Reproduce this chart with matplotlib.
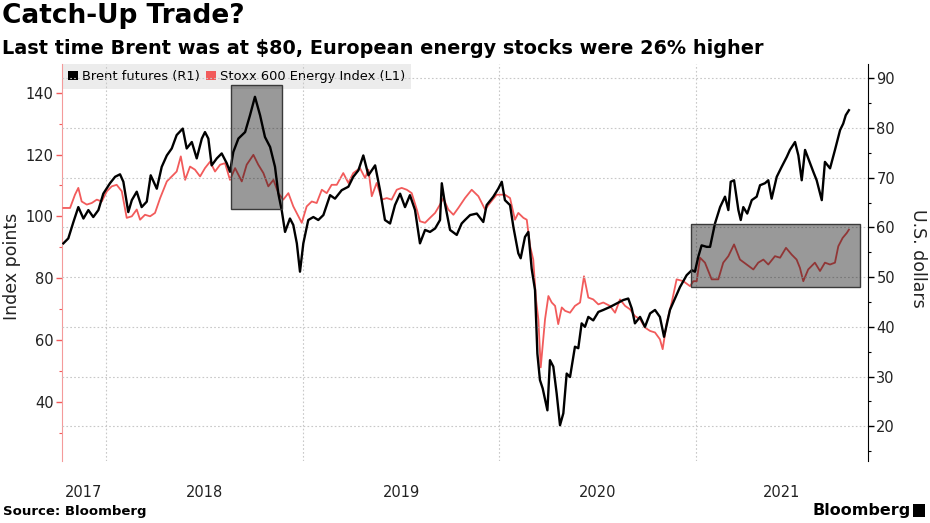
import matplotlib.pyplot as plt
from matplotlib.patches import Patch, Rectangle

# Brent futures, US$ (right axis) - dates as decimal years
brent_t = [2017.783, 2017.808, 2017.834, 2017.859, 2017.885, 2017.910, 2017.935, 2017.961, 2017.986,
           2018.020, 2018.046, 2018.071, 2018.088, 2018.113, 2018.131, 2018.156, 2018.181, 2018.207,
           2018.227, 2018.258, 2018.283, 2018.309, 2018.334, 2018.359, 2018.390, 2018.410, 2018.436,
           2018.461, 2018.487, 2018.503, 2018.520, 2018.537, 2018.563, 2018.588, 2018.614, 2018.630,
           2018.647, 2018.673, 2018.707, 2018.732, 2018.757, 2018.783, 2018.808, 2018.834, 2018.859,
           2018.876, 2018.893, 2018.910, 2018.935, 2018.952, 2018.970, 2018.986,
           2019.003, 2019.028, 2019.054, 2019.079, 2019.105, 2019.139, 2019.164, 2019.198, 2019.232,
           2019.257, 2019.283, 2019.308, 2019.334, 2019.368, 2019.393, 2019.418, 2019.444, 2019.469,
           2019.495, 2019.520, 2019.545, 2019.571, 2019.596, 2019.622, 2019.647, 2019.673, 2019.698,
           2019.707, 2019.723, 2019.749, 2019.783, 2019.808, 2019.825, 2019.851, 2019.885, 2019.918,
           2019.935, 2019.969, 2019.994,
           2020.012, 2020.028, 2020.054, 2020.071, 2020.096, 2020.108, 2020.130, 2020.147, 2020.164,
           2020.181, 2020.193, 2020.206, 2020.220, 2020.244, 2020.257, 2020.274, 2020.291, 2020.308,
           2020.325, 2020.342, 2020.359, 2020.384, 2020.401, 2020.418, 2020.435, 2020.452, 2020.477,
           2020.503, 2020.528, 2020.562, 2020.596, 2020.630, 2020.655, 2020.673, 2020.689, 2020.715,
           2020.740, 2020.766, 2020.791, 2020.816, 2020.837, 2020.867, 2020.918, 2020.952, 2020.978,
           2020.994,
           2021.011, 2021.028, 2021.054, 2021.071, 2021.096, 2021.122, 2021.147, 2021.164, 2021.176,
           2021.193, 2021.215, 2021.227, 2021.240, 2021.260, 2021.283, 2021.308, 2021.325, 2021.350,
           2021.367, 2021.384, 2021.410, 2021.435, 2021.461, 2021.477, 2021.503, 2021.520, 2021.537,
           2021.554, 2021.570, 2021.596, 2021.613, 2021.639, 2021.655, 2021.681, 2021.706, 2021.732,
           2021.748, 2021.761, 2021.777]
brent = [56.8, 57.8, 61.1, 64.1, 61.8, 63.5, 62.1, 63.5, 66.8,
         68.9, 70.2, 70.7, 69.2, 63.1, 65.5, 67.2, 64.1, 65.2,
         70.5, 67.8, 72.2, 74.5, 75.9, 78.6, 79.9, 75.9, 77.2,
         73.9, 77.9, 79.2, 77.9, 72.5, 73.9, 74.9, 72.9, 71.2,
         75.2, 77.9, 79.2, 82.6, 86.3, 82.6, 78.2, 76.2, 72.2,
         66.8, 63.5, 59.1, 61.8, 60.5, 56.8, 51.1,
         56.8, 61.5, 62.1, 61.5, 62.5, 66.5, 65.8, 67.5, 68.2,
         70.2, 71.5, 74.5, 70.5, 72.5, 67.5, 61.5, 60.8, 64.5,
         66.8, 64.1, 66.5, 63.5, 56.8, 59.5, 59.1, 59.8, 61.5,
         68.9, 64.8, 59.5, 58.5, 60.8, 61.5, 62.5, 62.8, 61.1,
         64.5, 66.2, 67.8,
         69.2, 65.5, 64.5, 60.1, 54.8, 53.8, 58.1, 59.1, 51.7,
         47.4, 34.6, 29.3, 27.6, 23.2, 33.3, 32.0, 26.6, 20.2,
         22.6, 30.6, 29.9, 36.0, 35.7, 40.7, 40.0, 42.0, 41.3,
         43.0, 43.4, 44.0, 44.7, 45.4, 45.7, 43.7, 40.7, 42.0,
         40.0, 42.7, 43.4, 42.0, 38.0, 43.4, 48.0, 50.4, 51.4,
         51.1,
         54.1, 56.4, 56.1, 56.1, 60.8, 64.1, 66.2, 63.5, 69.2,
         69.5, 63.5, 61.5, 64.1, 62.8, 65.5, 66.2, 68.5, 68.9,
         69.5, 65.8, 70.2, 72.2, 74.2, 75.6, 77.2, 74.5, 69.5,
         75.6, 73.9, 71.2, 69.5, 65.5, 73.2, 71.9, 75.6, 79.6,
         80.9, 82.6, 83.6]

# Stoxx 600 Energy Index, index points (left axis)
stoxx_t = [2017.783, 2017.817, 2017.842, 2017.859, 2017.876, 2017.902, 2017.927, 2017.953, 2017.978,
           2018.004, 2018.029, 2018.054, 2018.080, 2018.105, 2018.131, 2018.156, 2018.173, 2018.198,
           2018.224, 2018.249, 2018.275, 2018.309, 2018.334, 2018.359, 2018.380, 2018.402, 2018.427,
           2018.452, 2018.478, 2018.503, 2018.529, 2018.554, 2018.580, 2018.605, 2018.630, 2018.656,
           2018.690, 2018.715, 2018.749, 2018.774, 2018.800, 2018.825, 2018.851, 2018.876, 2018.901,
           2018.927, 2018.952, 2018.978, 2018.995,
           2019.020, 2019.046, 2019.071, 2019.097, 2019.122, 2019.147, 2019.173, 2019.206, 2019.232,
           2019.257, 2019.291, 2019.317, 2019.334, 2019.351, 2019.376, 2019.402, 2019.427, 2019.452,
           2019.478, 2019.503, 2019.529, 2019.554, 2019.580, 2019.596, 2019.622, 2019.647, 2019.673,
           2019.698, 2019.715, 2019.740, 2019.766, 2019.791, 2019.825, 2019.859, 2019.893, 2019.927,
           2019.952, 2019.986,
           2020.003, 2020.028, 2020.054, 2020.079, 2020.096, 2020.122, 2020.139, 2020.156, 2020.172,
           2020.186, 2020.198, 2020.210, 2020.220, 2020.232, 2020.249, 2020.266, 2020.283, 2020.299,
           2020.317, 2020.334, 2020.359, 2020.384, 2020.410, 2020.430, 2020.452, 2020.477, 2020.503,
           2020.528, 2020.562, 2020.588, 2020.613, 2020.639, 2020.664, 2020.689, 2020.715, 2020.740,
           2020.766, 2020.791, 2020.816, 2020.830, 2020.851, 2020.876, 2020.901, 2020.935, 2020.969,
           2020.986,
           2021.003, 2021.020, 2021.045, 2021.079, 2021.113, 2021.138, 2021.164, 2021.193, 2021.223,
           2021.257, 2021.291, 2021.316, 2021.342, 2021.367, 2021.401, 2021.427, 2021.457, 2021.486,
           2021.511, 2021.528, 2021.545, 2021.570, 2021.604, 2021.630, 2021.655, 2021.681, 2021.706,
           2021.723, 2021.745, 2021.766, 2021.777]
stoxx = [102.7, 102.7, 107.0, 109.2, 104.8, 103.8, 104.3, 105.4, 104.8,
         108.1, 109.7, 110.2, 108.1, 99.5, 100.0, 102.2, 98.9, 100.5,
         100.0, 101.1, 105.9, 111.3, 112.9, 114.5, 119.4, 111.8, 116.1,
         115.1, 112.9, 115.6, 117.7, 114.5, 116.7, 117.2, 111.8, 115.6,
         111.3, 116.7, 119.9, 116.7, 114.0, 109.7, 111.8, 107.5, 105.4,
         107.5, 103.2, 100.0, 97.9,
         103.2, 104.8, 104.3, 108.6, 107.5, 110.2, 110.2, 114.0, 110.8,
         114.0, 115.6, 112.4, 115.1, 106.5, 110.8, 105.4, 105.9, 105.4,
         108.6, 109.2, 108.6, 107.5, 102.2, 98.4, 97.9, 99.5, 101.1,
         103.8, 105.9, 102.2, 100.5, 102.7, 105.9, 108.6, 106.5, 102.2,
         104.3, 107.0,
         107.0, 107.0, 105.9, 98.9, 101.1, 99.5, 98.9, 90.3, 86.0,
         73.1, 66.6, 51.1, 58.1, 66.7, 74.2, 72.1, 71.0, 65.1,
         70.5, 69.4, 68.8, 71.0, 72.1, 80.6, 73.7, 73.1, 71.5,
         72.1, 71.0, 68.8, 73.1, 71.0, 69.9, 67.7, 66.7, 64.0,
         62.9, 62.4, 60.2, 57.0, 65.6, 72.1, 79.6, 79.0, 77.4,
         79.0,
         79.0, 86.6, 85.0, 79.6, 79.6, 85.0, 87.1, 90.9, 86.0,
         84.4, 82.8, 85.0, 86.0, 84.4, 87.1, 86.6, 89.8, 87.6,
         86.0, 83.3, 79.0, 82.8, 85.0, 82.3, 85.0, 84.4, 85.0,
         90.3, 93.0, 94.6, 95.7]

year_labels = ["2017", "2018", "2019", "2020", "2021"]
year_starts = [2018, 2019, 2020, 2021]
# highlighted periods: (start, end, low, high) in index points
boxes = [(2018.636, 2018.897, 102.5, 142.5),
         (2020.973, 2021.833, 77.2, 97.6)]

RED = "#f25b5b"
x0, x1 = 2017.776, 2021.874

fig = plt.figure(figsize=(9.3, 5.23), dpi=100)
ax = fig.add_axes([62 / 930, 62 / 523, 806 / 930, 397 / 523])
ax2 = ax.twinx()

ax.plot(stoxx_t, stoxx, color=RED, lw=1.3, zorder=3)
ax2.plot(brent_t, brent, color="black", lw=1.7, zorder=3)

for b0, b1, lo, hi in boxes:
    ax2.add_patch(Rectangle((b0, lo), b1 - b0, hi - lo, transform=ax.transData,
                            facecolor="black", alpha=0.4, edgecolor="none", zorder=5))
    ax2.add_patch(Rectangle((b0, lo), b1 - b0, hi - lo, transform=ax.transData,
                            fill=False, edgecolor="#3a3a3a", lw=1, zorder=6))

ax.set_xlim(x0, x1)
ax.set_ylim(20.8, 149.3)
ax2.set_ylim(13.0, 92.9)

# x axis: grid at year starts, labels in the middle of each visible year
edges = [x0] + year_starts + [x1]
centers = [(edges[i] + edges[i + 1]) / 2 for i in range(len(year_labels))]
ax.set_xticks(year_starts)
ax.set_xticklabels([])
ax.set_xticks(centers, minor=True)
ax.set_xticklabels(year_labels, minor=True)
ax.tick_params(axis="x", which="both", length=0, pad=17, labelsize=10.5, labelcolor="#222222")
ax.grid(axis="x", which="major", color="#c8c8c8", ls=(0, (1.5, 2)), lw=0.8)

ax.set_yticks(range(40, 141, 20))
ax.set_yticks(range(30, 131, 20), minor=True)
ax.tick_params(axis="y", which="major", color=RED, length=4, width=1, labelsize=10.5,
               labelcolor="#222222", pad=2)
ax.tick_params(axis="y", which="minor", color=RED, length=2.5, width=0.8)

ax2.set_yticks(range(20, 91, 10))
ax2.set_yticks(range(15, 91, 10), minor=True)
ax2.tick_params(axis="y", which="major", color="black", length=4, width=1, labelsize=10.5,
                labelcolor="#222222", pad=2)
ax2.tick_params(axis="y", which="minor", color="black", length=2.5, width=0.8)
ax2.grid(axis="y", which="major", color="#c8c8c8", ls=(0, (1.5, 2)), lw=0.8)
ax2.set_axisbelow(True)

for s in ["top", "bottom", "right"]:
    ax.spines[s].set_visible(False)
ax.spines["left"].set_color("#f49a9a")
for s in ["top", "bottom", "left"]:
    ax2.spines[s].set_visible(False)
ax2.spines["right"].set_color("black")

ax.set_ylabel("Index points", fontsize=12.5, color="#222222", va="center")
ax.yaxis.set_label_coords(-0.062, 0.49)
ax2.set_ylabel("U.S. dollars", fontsize=12.5, color="#222222", rotation=270, va="center")
ax2.yaxis.set_label_coords(1.062, 0.51)

handles = [Patch(facecolor="black", edgecolor="none", label="Brent futures (R1)"),
           Patch(facecolor=RED, edgecolor="none", label="Stoxx 600 Energy Index (L1)")]
leg = ax.legend(handles=handles, loc="upper left", ncol=2, fontsize=9.4, frameon=True,
                facecolor="#ececec", edgecolor="none", fancybox=False, framealpha=1,
                borderaxespad=0, borderpad=0.45, handlelength=0.75, handleheight=0.75,
                handletextpad=0.3, columnspacing=0.5)
leg.set_zorder(1)

fig.text(0.002, 0.995, "Catch-Up Trade?", fontsize=19, weight="bold", va="top")
fig.text(0.002, 0.925, "Last time Brent was at $80, European energy stocks were 26% higher",
         fontsize=13.9, weight="bold", va="top")
fig.text(0.003, 11 / 523, "Source: Bloomberg", fontsize=9.5, weight="bold", va="center")
fig.text(812 / 930, 12 / 523, "Bloomberg", fontsize=11.5, weight="bold", va="center")
fig.patches.append(Rectangle((913 / 930, 6 / 523), 12 / 930, 13 / 523, transform=fig.transFigure,
                             facecolor="black", edgecolor="none"))

fig.savefig("out.png", dpi=100)
